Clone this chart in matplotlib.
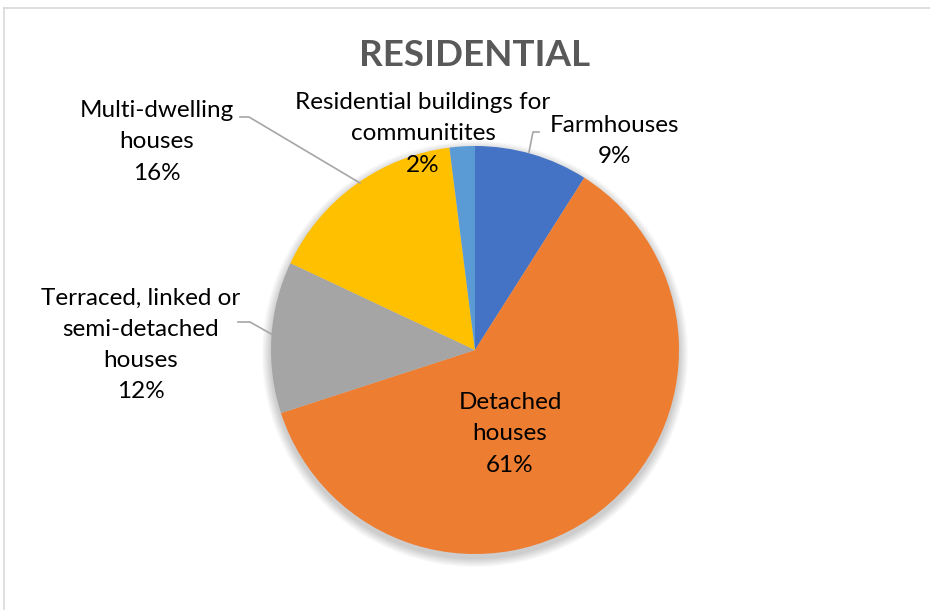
import matplotlib.pyplot as plt
from matplotlib.patches import Circle

plt.rcParams['font.family'] = ['Lato', 'DejaVu Sans']

# residential building stock, share per category (%)
categories = ["Farmhouses", "Detached houses", "Terraced, linked or semi-detached houses",
              "Multi-dwelling houses", "Residential buildings for communitites"]
shares = [9, 61, 12, 16, 2]
colors = ["#4472C4", "#ED7D31", "#A5A5A5", "#FFC000", "#5B9BD5"]
label_texts = ["Farmhouses\n9%", "Detached\nhouses\n61%",
               "Terraced, linked or\nsemi-detached\nhouses\n12%",
               "Multi-dwelling\nhouses\n16%",
               "Residential buildings for\ncommunitites\n2%"]

W, H = 930, 610
fig = plt.figure(figsize=(W / 100, H / 100), dpi=100)
ax = fig.add_axes([0, 0, 1, 1])

cx, cy, r = 475, 350, 204

# soft drop shadow under the pie
for i in range(10):
    ax.add_patch(Circle((cx, cy + 4), r + 1 + i * 0.9, color="#000000",
                        alpha=0.018, lw=0, zorder=1))

# y axis is inverted: start at -90 (top) and counterclock=True runs clockwise on screen
ax.pie(shares, colors=colors, startangle=-90, counterclock=True,
       center=(cx, cy), radius=r, frame=True,
       wedgeprops=dict(linewidth=0, zorder=2))
ax.set_xlim(0, W)
ax.set_ylim(H, 0)
ax.set_aspect("equal")
ax.axis("off")

# chart area frame (left and top edges visible)
ax.plot([4, 4], [8, H], color="#D9D9D9", lw=1.2)
ax.plot([4, W], [8, 8], color="#D9D9D9", lw=1.2)

ax.text(475, 56, "RESIDENTIAL", ha="center", va="center", fontsize=26.5,
        fontweight="bold", color="#595959")

label_pos = [(614, 141), (510, 434), (141, 345), (157, 142), (423, 134)]
for txt, (x, y) in zip(label_texts, label_pos):
    ax.text(x, y, txt, ha="center", va="center", fontsize=17.5, color="#000000",
            linespacing=1.6, zorder=5)

# leader lines
lc = "#A6A6A6"
ax.plot([240, 249, 360], [117, 117, 183], color=lc, lw=1.2, zorder=3)
ax.plot([539, 533, 529], [132, 132, 152], color=lc, lw=1.2, zorder=3)
ax.plot([238, 250, 273], [322, 322, 335], color=lc, lw=1.2, zorder=3)

fig.savefig("out.png", dpi=100)
